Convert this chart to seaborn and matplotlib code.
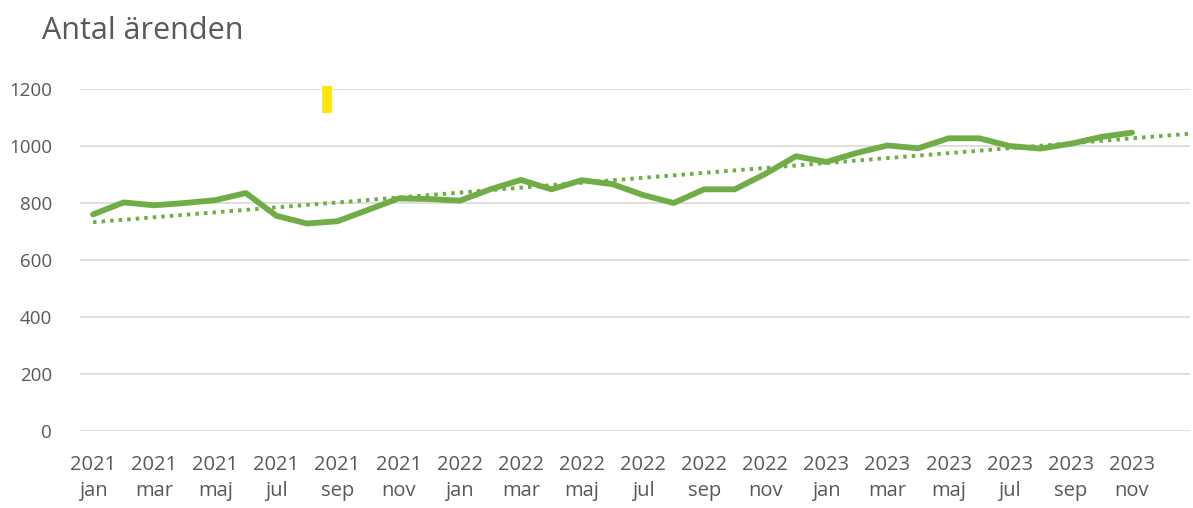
import numpy as np
import pandas as pd
import matplotlib
matplotlib.use('Agg')
import matplotlib.pyplot as plt
import seaborn as sns

# monthly counts jan 2021 - nov 2023
years = [2021] * 12 + [2022] * 12 + [2023] * 11
months = ['jan', 'feb', 'mar', 'apr', 'maj', 'jun', 'jul', 'aug', 'sep', 'okt', 'nov', 'dec'] * 3
months = months[:35]
antal = [760, 802, 792, 800, 810, 835, 755, 728, 736, 776, 816, 814,
         808, 848, 881, 848, 880, 866, 828, 800, 848, 848, 902, 964,
         944, 976, 1002, 992, 1027, 1027, 1000, 991, 1008, 1032, 1047]
forecast_periods = 2

# small yellow marker seen in the original
marker_x = [7.65, 7.65]
marker_y = [1115, 1210]

df = pd.DataFrame({'year': years, 'month': months, 'antal': antal})
df['idx'] = np.arange(len(df))
df['label'] = df['year'].astype(str) + '\n' + df['month']

# linear trend like excel's trendline
k, m = np.polyfit(df['idx'], df['antal'], 1)
trend = pd.DataFrame({'idx': np.arange(0, len(df) + forecast_periods)})
trend['antal'] = k * trend['idx'] + m

sns.set_style('white')
plt.rcParams['font.family'] = ['Open Sans', 'DejaVu Sans']
green = '#70AD47'
grey = '#595959'

fig = plt.figure(figsize=(11.93, 5.08), dpi=100)
ax = fig.add_axes([0.067, 0.1516, 0.9305, 0.6732])

sns.lineplot(data=df, x='idx', y='antal', color=green, linewidth=4.2, ax=ax,
             solid_capstyle='round', zorder=3)
sns.lineplot(data=trend, x='idx', y='antal', color=green, linewidth=2.8, ax=ax,
             linestyle=(0, (0.9, 1.3)), dash_capstyle='butt', zorder=2)
ax.plot(marker_x, marker_y, color='#FFE600', linewidth=7, solid_capstyle='butt',
        clip_on=False, zorder=4)

ax.set_ylim(0, 1200)
ax.set_xlim(-0.43, 35.9)
ax.set_yticks(range(0, 1201, 200))
ax.set_xticks(df['idx'][::2])
ax.set_xticklabels(df['label'][::2], linespacing=1.45)
ax.yaxis.grid(True, color='#D9D9D9', linewidth=1.2)
ax.xaxis.grid(False)
ax.tick_params(axis='both', length=0, labelcolor=grey)
ax.tick_params(axis='x', labelsize=14.5, pad=17)
ax.tick_params(axis='y', labelsize=13.5, pad=20)
for s in ax.spines.values():
    s.set_visible(False)
ax.set_xlabel('')
ax.set_ylabel('')

fig.text(0.035, 0.938, 'Antal ärenden', fontsize=22, color=grey, va='center')

fig.savefig('out.png', dpi=100)
